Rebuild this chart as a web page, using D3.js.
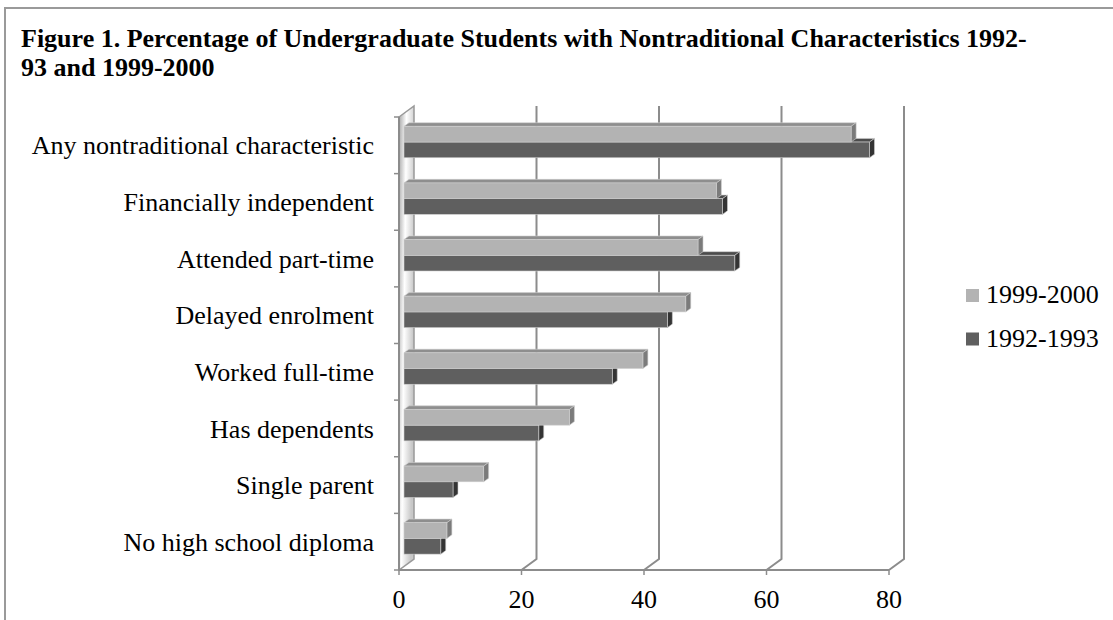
<!DOCTYPE html>
<meta charset="utf-8">
<style>
    body { margin: 0; background: #fff; }
    text { font-family: "Liberation Serif", "Times New Roman", serif; fill: #000; }
    .title { font-weight: bold; font-size: 26px; }
    .cat { font-size: 26px; }
    .tick-label { font-size: 26px; }
    .legend text { font-size: 26px; }
</style>
<svg width="1113" height="620"></svg>
<script src="https://cdn.jsdelivr.net/npm/d3@7/dist/d3.min.js"></script>
<script>

    var categories = ["Any nontraditional characteristic", "Financially independent", "Attended part-time",
        "Delayed enrolment", "Worked full-time", "Has dependents", "Single parent", "No high school diploma"];
    var series = ["1999-2000", "1992-1993"];
    var values1999 = [73, 51, 48, 46, 39, 27, 13, 7];
    var values1992 = [76, 52, 54, 43, 34, 22, 8, 6];
    var ticks = [0, 20, 40, 60, 80];

    var svg = d3.select("svg");

    // frame
    svg.append("rect")
            .attr("x", 5).attr("y", 8)
            .attr("width", 1200).attr("height", 700)
            .attr("fill", "none")
            .attr("stroke", "#9a9a9a")
            .attr("stroke-width", 2);

    svg.append("text").attr("class", "title").attr("x", 21).attr("y", 47)
            .text("Figure 1. Percentage of Undergraduate Students with Nontraditional Characteristics 1992-");
    svg.append("text").attr("class", "title").attr("x", 21).attr("y", 76)
            .text("93 and 1999-2000");

    var depth = {x: 15, y: -11};          // whole depth of the 3d box
    var barDepth = {x: 5, y: -3.6};        // depth of one bar, sits mid box

    var x = d3.scaleLinear().domain([0, 80]).range([399, 889]),
        y = d3.scaleBand().domain(categories).range([117, 570]),
        ySeries = d3.scaleBand().domain(series)
            .range([y.bandwidth() * 0.23, y.bandwidth() * 0.785]);

    var colors = {
        "1999-2000": {front: "#b3b3b3", top: "#8e8e8e", side: "#7b7b7b"},
        "1992-1993": {front: "#5f5f5f", top: "#4c4c4c", side: "#343434"}
    };

    var defs = svg.append("defs");
    var grad = defs.append("linearGradient").attr("id", "wall")
            .attr("x1", "0").attr("y1", "0").attr("x2", "1").attr("y2", "0.35");
    grad.append("stop").attr("offset", "0%").attr("stop-color", "#a8a8a8");
    grad.append("stop").attr("offset", "45%").attr("stop-color", "#ffffff");
    grad.append("stop").attr("offset", "100%").attr("stop-color", "#c8c8c8");

    var y0 = 570, yTop = 117;

    // back wall gridlines + floor diagonals
    var grid = svg.append("g").attr("stroke", "#8c8c8c").attr("stroke-width", 2).attr("fill", "none");
    ticks.forEach(function(t) {
        if (t === 0) return;
        grid.append("polyline")
                .attr("points", [[x(t), y0], [x(t) + depth.x, y0 + depth.y], [x(t) + depth.x, yTop + depth.y]]
                        .map(function(p) { return p.join(","); }).join(" "));
    });

    // left wall
    svg.append("path")
            .attr("d", "M" + x(0) + "," + yTop + "L" + (x(0) + depth.x) + "," + (yTop + depth.y) +
                    "L" + (x(0) + depth.x) + "," + (y0 + depth.y) + "L" + x(0) + "," + y0 + "Z")
            .attr("fill", "url(#wall)")
            .attr("stroke", "#999")
            .attr("stroke-width", 1.5);

    // floor front edge + ticks
    svg.append("line").attr("x1", x(0)).attr("x2", x(80)).attr("y1", y0).attr("y2", y0)
            .attr("stroke", "#8c8c8c").attr("stroke-width", 2);
    svg.selectAll(".xtick").data(ticks).enter().append("line")
            .attr("x1", function(d) { return x(d); }).attr("x2", function(d) { return x(d); })
            .attr("y1", y0).attr("y2", y0 + 5)
            .attr("stroke", "#8c8c8c").attr("stroke-width", 1.5);
    svg.selectAll(".tick-label").data(ticks).enter().append("text")
            .attr("class", "tick-label")
            .attr("x", function(d) { return x(d); })
            .attr("y", 608)
            .attr("text-anchor", "middle")
            .text(function(d) { return d; });

    // category axis
    svg.append("line").attr("x1", x(0)).attr("x2", x(0)).attr("y1", yTop).attr("y2", y0)
            .attr("stroke", "#8c8c8c").attr("stroke-width", 2);
    var bounds = categories.map(function(c) { return y(c); }).concat([y0]);
    svg.selectAll(".ytick").data(bounds).enter().append("line")
            .attr("x1", x(0) - 5).attr("x2", x(0))
            .attr("y1", function(d) { return d; }).attr("y2", function(d) { return d; })
            .attr("stroke", "#8c8c8c").attr("stroke-width", 1.5);
    svg.selectAll(".cat").data(categories).enter().append("text")
            .attr("class", "cat")
            .attr("x", 374)
            .attr("y", function(d) { return y(d) + y.bandwidth() / 2; })
            .attr("dy", "0.35em")
            .attr("text-anchor", "end")
            .text(function(d) { return d; });

    // bars: draw lower series first so the upper one covers its top face
    var rows = [];
    categories.forEach(function(c, i) {
        rows.push({cat: c, s: "1992-1993", v: values1992[i]});
        rows.push({cat: c, s: "1999-2000", v: values1999[i]});
    });

    var ox = (depth.x - barDepth.x) / 2, oy = (depth.y - barDepth.y) / 2;

    var bar = svg.selectAll(".bar").data(rows).enter().append("g").attr("class", "bar");
    function pts(a) { return a.map(function(p) { return p.join(","); }).join(" "); }
    bar.each(function(d) {
        var g = d3.select(this),
            x0 = x(0) + ox, x1 = x(d.v) + ox,
            t = y(d.cat) + ySeries(d.s) + oy, b = t + ySeries.bandwidth(),
            c = colors[d.s];
        g.append("polygon").attr("points", pts([[x0, t], [x1, t], [x1 + barDepth.x, t + barDepth.y], [x0 + barDepth.x, t + barDepth.y]]))
                .attr("fill", c.top).attr("stroke", "#cfcfcf").attr("stroke-width", 0.6);
        g.append("polygon").attr("points", pts([[x1, t], [x1 + barDepth.x, t + barDepth.y], [x1 + barDepth.x, b + barDepth.y], [x1, b]]))
                .attr("fill", c.side).attr("stroke", "#cfcfcf").attr("stroke-width", 0.6);
        g.append("rect").attr("x", x0).attr("y", t).attr("width", x1 - x0).attr("height", b - t)
                .attr("fill", c.front).attr("stroke", "#cfcfcf").attr("stroke-width", 0.6);
    });

    // legend
    var legend = svg.append("g").attr("class", "legend");
    series.forEach(function(s, i) {
        legend.append("rect").attr("x", 966).attr("y", 289 + i * 43.5)
                .attr("width", 13).attr("height", 13).attr("fill", colors[s].front);
        legend.append("text").attr("x", 986).attr("y", 303 + i * 43.5).text(s);
    });
</script>
